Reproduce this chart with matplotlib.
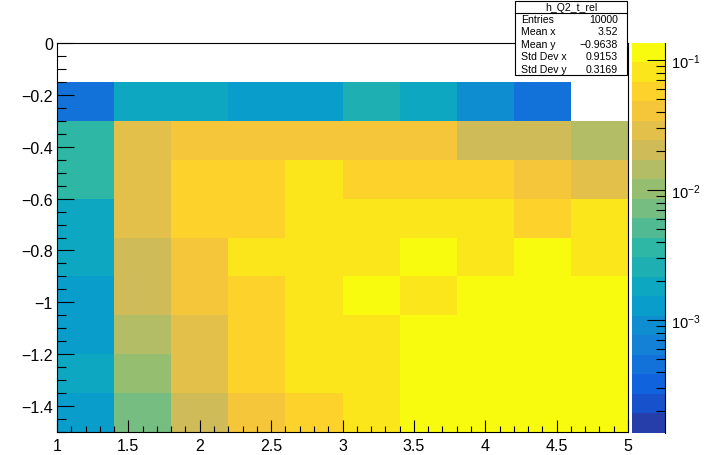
import numpy as np
import matplotlib
matplotlib.use("Agg")
import matplotlib.pyplot as plt
from matplotlib.colors import ListedColormap, BoundaryNorm
from matplotlib.patches import Rectangle
from matplotlib.lines import Line2D
from matplotlib.ticker import MultipleLocator, LogLocator, LogFormatterSciNotation, NullFormatter, FuncFormatter

plt.rcParams['font.family'] = ['Liberation Sans', 'DejaVu Sans']
plt.rcParams['mathtext.fontset'] = 'custom'
plt.rcParams['mathtext.rm'] = 'Liberation Sans'
plt.rcParams['mathtext.it'] = 'Liberation Sans:italic'
plt.rcParams['mathtext.bf'] = 'Liberation Sans:bold'

# binning of h_Q2_t_rel
x_lo, x_hi, nx = 1.0, 5.0, 10
y_lo, y_hi, ny = -1.5, 0.0, 10

# bin contents, one list per y bin, from y=-1.5 upwards (nan = empty bin)
t_bin0 = [1.3e-3, 7.3e-3, 2.05e-2, 4.1e-2, 5.8e-2, 8.2e-2, 0.115, 0.115, 0.115, 0.115]
t_bin1 = [1.8e-3, 1.03e-2, 2.9e-2, 5.8e-2, 8.2e-2, 8.2e-2, 0.115, 0.115, 0.115, 0.115]
t_bin2 = [1.3e-3, 1.45e-2, 2.9e-2, 5.8e-2, 8.2e-2, 8.2e-2, 0.115, 0.115, 0.115, 0.115]
t_bin3 = [1.3e-3, 2.05e-2, 4.1e-2, 5.8e-2, 8.2e-2, 0.115, 8.2e-2, 0.115, 0.115, 0.115]
t_bin4 = [1.8e-3, 2.05e-2, 4.1e-2, 8.2e-2, 8.2e-2, 8.2e-2, 0.115, 8.2e-2, 0.115, 8.2e-2]
t_bin5 = [1.8e-3, 2.9e-2, 5.8e-2, 5.8e-2, 8.2e-2, 8.2e-2, 8.2e-2, 8.2e-2, 5.8e-2, 8.2e-2]
t_bin6 = [3.7e-3, 2.9e-2, 5.8e-2, 5.8e-2, 8.2e-2, 5.8e-2, 5.8e-2, 5.8e-2, 4.1e-2, 2.9e-2]
t_bin7 = [3.7e-3, 2.9e-2, 4.1e-2, 4.1e-2, 4.1e-2, 4.1e-2, 4.1e-2, 2.05e-2, 2.05e-2, 1.45e-2]
t_bin8 = [4.6e-4, 1.8e-3, 1.8e-3, 1.3e-3, 1.3e-3, 2.6e-3, 1.8e-3, 9.2e-4, 4.6e-4, np.nan]
t_bin9 = [np.nan] * 10

stat_names = ["Entries", "Mean x", "Mean y", "Std Dev x", "Std Dev y"]
stat_values = ["10000", "3.52", "\u22120.9638", "0.9153", "0.3169"]
hist_name = "h_Q2_t_rel"

# z range of the log colour scale
z_max = 0.137
z_min = z_max / 1000.0
n_cont = 20

# kBird palette
bird_stops = [0.0, 0.125, 0.25, 0.375, 0.5, 0.625, 0.75, 0.875, 1.0]
bird_r = [0.2082, 0.0592, 0.0780, 0.0232, 0.1802, 0.5301, 0.8186, 0.9956, 0.9764]
bird_g = [0.1664, 0.3599, 0.5041, 0.6419, 0.7178, 0.7492, 0.7328, 0.7862, 0.9832]
bird_b = [0.5293, 0.8684, 0.8385, 0.7914, 0.6425, 0.4662, 0.3499, 0.1968, 0.0539]
frac = (np.arange(n_cont) + 0.99) / n_cont
cols = np.column_stack([np.interp(frac, bird_stops, bird_r),
                        np.interp(frac, bird_stops, bird_g),
                        np.interp(frac, bird_stops, bird_b)])
cmap = ListedColormap(cols)
cmap.set_bad((1, 1, 1, 0))
levels = np.logspace(np.log10(z_min), np.log10(z_max), n_cont + 1)
norm = BoundaryNorm(levels, n_cont)

Z = np.ma.masked_invalid(np.array([t_bin0, t_bin1, t_bin2, t_bin3, t_bin4,
                                   t_bin5, t_bin6, t_bin7, t_bin8, t_bin9]))
x_edges = np.linspace(x_lo, x_hi, nx + 1)
y_edges = np.linspace(y_lo, y_hi, ny + 1)

W, H = 704, 456
fig = plt.figure(figsize=(W / 100, H / 100), dpi=100)
ax = fig.add_axes([57 / W, 1 - 433 / H, (628 - 57) / W, (433 - 44) / H])
ax.pcolormesh(x_edges, y_edges, Z, cmap=cmap, norm=norm, antialiased=False, linewidth=0)
ax.set_xlim(x_lo, x_hi)
ax.set_ylim(y_lo, y_hi)

def root_fmt(v, pos):
    v = round(v, 6) + 0.0
    return ('%g' % v).replace('-', '\u2212')

ax.xaxis.set_major_locator(MultipleLocator(0.5))
ax.xaxis.set_minor_locator(MultipleLocator(0.1))
ax.yaxis.set_major_locator(MultipleLocator(0.2))
ax.yaxis.set_minor_locator(MultipleLocator(0.05))
ax.xaxis.set_major_formatter(FuncFormatter(root_fmt))
ax.yaxis.set_major_formatter(FuncFormatter(root_fmt))
ax.tick_params(axis='x', which='major', direction='in', length=8.6, width=0.8, labelsize=11.5, pad=4)
ax.tick_params(axis='x', which='minor', direction='in', length=4.3, width=0.8)
ax.tick_params(axis='y', which='major', direction='in', length=12.5, width=0.8, labelsize=11.5, pad=3)
ax.tick_params(axis='y', which='minor', direction='in', length=6.5, width=0.8)
ax.tick_params(which='both', top=False, right=False)
for s in ax.spines.values():
    s.set_linewidth(0.8)

# palette axis
cax = fig.add_axes([631.5 / W, 1 - 433.5 / H, 33 / W, 390 / H])
mids = np.sqrt(levels[:-1] * levels[1:]).reshape(-1, 1)
cax.pcolormesh([0, 1], levels, mids, cmap=cmap, norm=norm, antialiased=False, linewidth=0)
cax.set_yscale('log')
cax.set_ylim(z_min, z_max)
cax.set_xlim(0, 1)
cax.set_xticks([])
for side in ['left', 'top', 'bottom']:
    cax.spines[side].set_visible(False)
cax.spines['right'].set_linewidth(0.8)
cax.yaxis.tick_right()
cax.yaxis.set_major_locator(LogLocator(base=10))
cax.yaxis.set_minor_locator(LogLocator(base=10, subs=np.arange(2, 10)))
cax.yaxis.set_major_formatter(LogFormatterSciNotation())
cax.yaxis.set_minor_formatter(NullFormatter())
cax.tick_params(axis='y', which='major', direction='in', length=12.7, width=0.8, labelsize=10.5, pad=5)
cax.tick_params(axis='y', which='minor', direction='in', length=6.7, width=0.8)

# statistics box
bx0, bx1, by0, by1 = 515, 627, 2, 76
fig.add_artist(Rectangle((bx0 / W, 1 - by1 / H), (bx1 - bx0) / W, (by1 - by0) / H,
                         transform=fig.transFigure, facecolor='white', edgecolor='black',
                         linewidth=0.8, zorder=5))
fig.add_artist(Line2D([bx0 / W, bx1 / W], [1 - 13.5 / H, 1 - 13.5 / H],
                      transform=fig.transFigure, color='black', linewidth=0.8, zorder=6))
fig.text((bx0 + bx1) / 2 / W, 1 - 8 / H, hist_name, ha='center', va='center',
         fontsize=7.6, zorder=7)
for i, (name, val) in enumerate(zip(stat_names, stat_values)):
    yc = 1 - (19.8 + 12.5 * i) / H
    fig.text(521 / W, yc, name, ha='left', va='center', fontsize=7.6, zorder=7)
    fig.text(618 / W, yc, val, ha='right', va='center', fontsize=7.6, zorder=7)

fig.savefig('out.png', dpi=100)
